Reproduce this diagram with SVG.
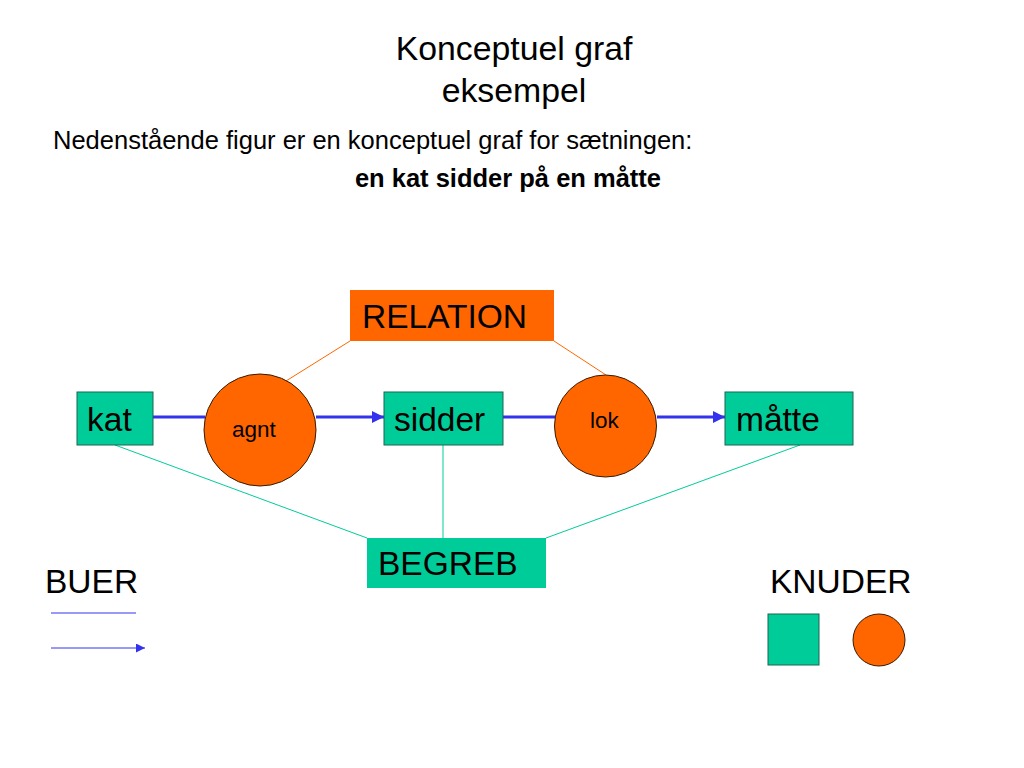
<svg xmlns="http://www.w3.org/2000/svg" width="1024" height="768" viewBox="0 0 1024 768">
<style>
text{font-family:"Liberation Sans",Arial,sans-serif;fill:#000}
.concept{fill:#00cc99;stroke:#1a6650;stroke-width:1}
.relation{fill:#ff6600;stroke:#3a1a00;stroke-width:1}
.arc{stroke:#3333ee;stroke-width:3;fill:none}
.thin{stroke:#3333ee;stroke-width:1;fill:none}
.rel-link{stroke:#ff6600;stroke-width:1;fill:none}
.con-link{stroke:#00cc99;stroke-width:1;fill:none}
.big{font-size:33.5px}
.small{font-size:22.5px}
</style>
<defs>
<marker id="ah" viewBox="0 0 10 10" refX="10" refY="5" markerWidth="4" markerHeight="4" markerUnits="strokeWidth" orient="auto">
<path d="M0,0 L10,5 L0,10 z" fill="#3333ee"/>
</marker>
<marker id="ah2" viewBox="0 0 10 10" refX="10" refY="5" markerWidth="9" markerHeight="9" markerUnits="strokeWidth" orient="auto">
<path d="M0,0 L10,5 L0,10 z" fill="#3333ee"/>
</marker>
</defs>
<rect width="1024" height="768" fill="#fff"/>
<g id="title">
<text x="514" y="60" font-size="33.8" text-anchor="middle">Konceptuel graf</text>
<text x="514" y="102" font-size="33.8" text-anchor="middle">eksempel</text>
<text x="53" y="149" font-size="25.5">Nedenstående figur er en konceptuel graf for sætningen:</text>
<text x="661" y="187" font-size="25.5" font-weight="bold" text-anchor="end">en kat sidder på en måtte</text>
</g>
<g id="connectors">
<line class="rel-link" x1="350" y1="341" x2="286" y2="381"/>
<line class="rel-link" x1="554" y1="341" x2="606" y2="375"/>
<line class="con-link" x1="115" y1="445" x2="367" y2="538"/>
<line class="con-link" x1="443" y1="445" x2="443" y2="538"/>
<line class="con-link" x1="800" y1="445" x2="546" y2="538"/>
<line class="arc" x1="153" y1="417" x2="205" y2="417"/>
<line class="arc" x1="316" y1="417" x2="384" y2="417" marker-end="url(#ah)"/>
<line class="arc" x1="503" y1="417" x2="555" y2="417"/>
<line class="arc" x1="657" y1="417" x2="725" y2="417" marker-end="url(#ah)"/>
</g>
<g id="node-relation">
<rect x="350" y="290" width="204" height="51" fill="#ff6600"/>
<text x="362" y="328" class="big">RELATION</text>
</g>
<g id="node-kat">
<rect class="concept" x="77" y="392" width="76" height="53"/>
<text x="87" y="431" class="big">kat</text>
</g>
<g id="node-agnt">
<circle class="relation" cx="260" cy="430" r="56"/>
<text x="232" y="437" class="small">agnt</text>
</g>
<g id="node-sidder">
<rect class="concept" x="384" y="392" width="119" height="53"/>
<text x="394" y="431" class="big">sidder</text>
</g>
<g id="node-lok">
<circle class="relation" cx="605.5" cy="426" r="51"/>
<text x="590" y="428" class="small">lok</text>
</g>
<g id="node-maatte">
<rect class="concept" x="725" y="392" width="128" height="53"/>
<text x="736" y="431" class="big">måtte</text>
</g>
<g id="node-begreb">
<rect x="367" y="538" width="179" height="50" fill="#00cc99"/>
<text x="378" y="575" class="big">BEGREB</text>
</g>
<g id="legend-buer">
<text x="45" y="593" class="big">BUER</text>
<line class="thin" x1="51" y1="613" x2="136" y2="613"/>
<line class="thin" x1="51" y1="648" x2="145" y2="648" marker-end="url(#ah2)"/>
</g>
<g id="legend-knuder">
<text x="770" y="593" class="big">KNUDER</text>
<rect class="concept" x="768" y="614" width="51" height="51"/>
<circle class="relation" cx="879" cy="640" r="26"/>
</g>
</svg>
